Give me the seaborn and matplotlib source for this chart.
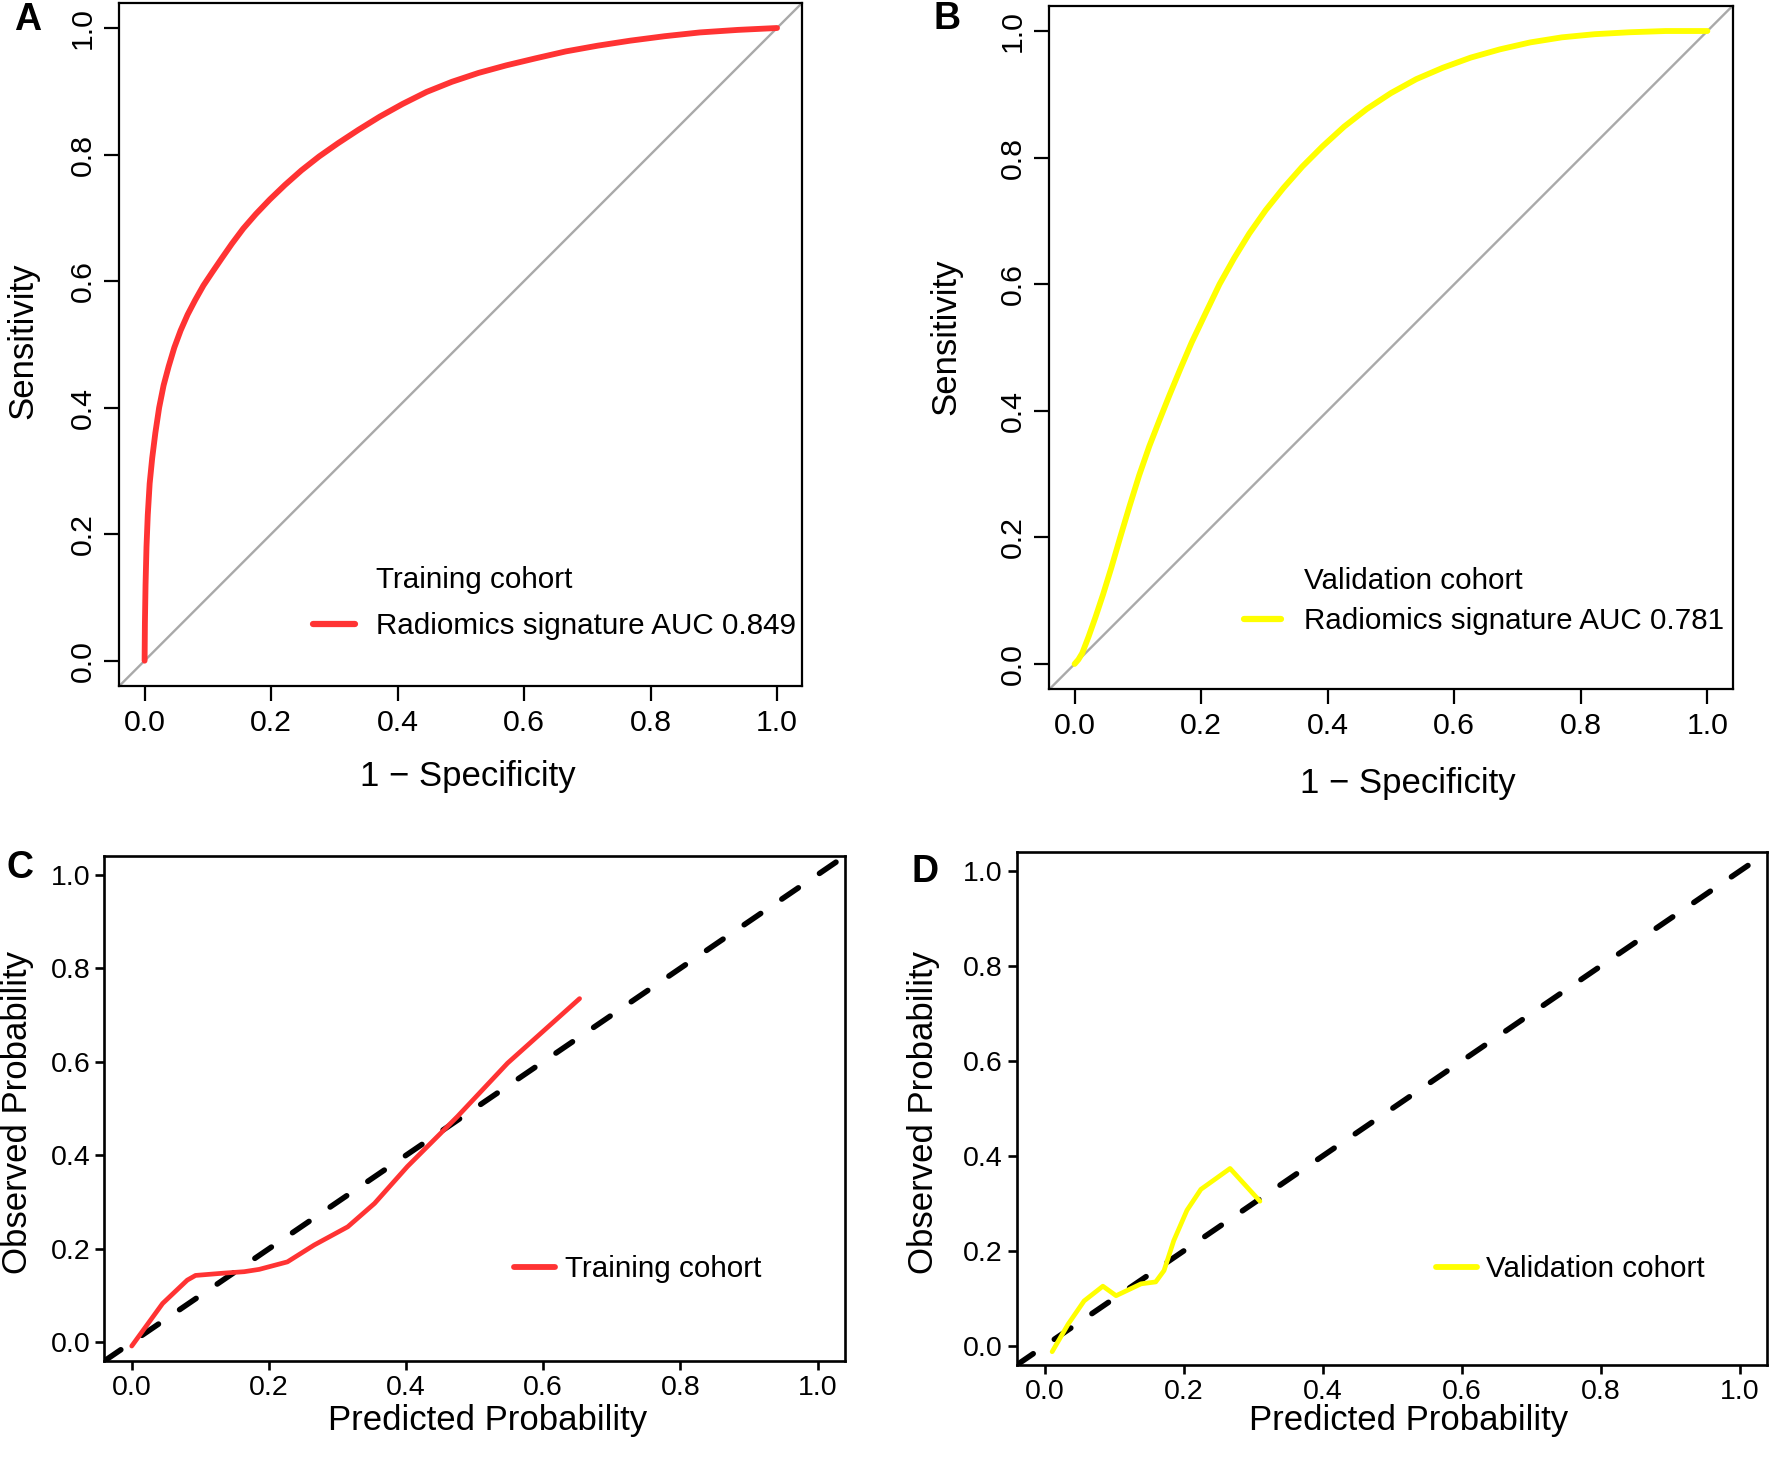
import matplotlib
matplotlib.use('Agg')
import matplotlib.pyplot as plt
from matplotlib.lines import Line2D
import seaborn as sns

# panel A: ROC, training cohort
train_fpr = [0.000, 0.0005, 0.0015, 0.003, 0.005, 0.008, 0.012, 0.017, 0.023, 0.030,
             0.038, 0.047, 0.057, 0.068, 0.080, 0.093, 0.107, 0.122, 0.138, 0.156,
             0.176, 0.198, 0.222, 0.248, 0.276, 0.306, 0.338, 0.372, 0.408, 0.446,
             0.486, 0.528, 0.572, 0.618, 0.666, 0.716, 0.768, 0.822, 0.878, 0.938,
             1.000]
train_tpr = [0.000, 0.060, 0.120, 0.180, 0.230, 0.280, 0.320, 0.360, 0.400, 0.435,
             0.465, 0.495, 0.522, 0.547, 0.570, 0.593, 0.614, 0.636, 0.659, 0.683,
             0.706, 0.729, 0.752, 0.775, 0.797, 0.818, 0.839, 0.860, 0.880, 0.899,
             0.915, 0.929, 0.941, 0.952, 0.963, 0.972, 0.980, 0.987, 0.993, 0.997,
             1.000]

# panel B: ROC, validation cohort
valid_fpr = [0.000, 0.006, 0.012, 0.022, 0.033, 0.045, 0.058, 0.072, 0.087, 0.102,
             0.118, 0.134, 0.150, 0.167, 0.185, 0.205, 0.229, 0.252, 0.276, 0.302,
             0.330, 0.360, 0.392, 0.426, 0.462, 0.500, 0.540, 0.582, 0.626, 0.672,
             0.720, 0.770, 0.822, 0.876, 0.934, 1.000]
valid_tpr = [0.000, 0.007, 0.017, 0.043, 0.074, 0.110, 0.152, 0.200, 0.250, 0.298,
             0.344, 0.385, 0.425, 0.466, 0.508, 0.550, 0.600, 0.641, 0.680, 0.717,
             0.752, 0.786, 0.818, 0.849, 0.877, 0.902, 0.924, 0.942, 0.958, 0.971,
             0.982, 0.990, 0.995, 0.998, 1.000, 1.000]

# panel C: calibration, training cohort
train_pred = [0.000, 0.045, 0.081, 0.093, 0.135, 0.164, 0.186, 0.227, 0.266, 0.315,
              0.354, 0.402, 0.475, 0.548, 0.653]
train_obs = [-0.008, 0.083, 0.133, 0.143, 0.148, 0.151, 0.156, 0.172, 0.208, 0.247,
             0.297, 0.376, 0.483, 0.597, 0.735]

# panel D: calibration, validation cohort
valid_pred = [0.011, 0.034, 0.057, 0.084, 0.103, 0.139, 0.160, 0.172, 0.186, 0.205,
              0.225, 0.267, 0.310]
valid_obs = [-0.012, 0.046, 0.095, 0.126, 0.106, 0.131, 0.135, 0.159, 0.222, 0.286,
             0.330, 0.374, 0.305]

tick_values = [0.0, 0.2, 0.4, 0.6, 0.8, 1.0]
tick_labels = ['0.0', '0.2', '0.4', '0.6', '0.8', '1.0']

RED = '#FF3333'
YELLOW = '#FFFF00'
GREY = '#A9A9A9'

sns.set_style('white')
plt.rcParams['font.family'] = ['Liberation Sans', 'DejaVu Sans']
plt.rcParams['text.color'] = 'black'
plt.rcParams['axes.labelcolor'] = 'black'
plt.rcParams['xtick.color'] = 'black'
plt.rcParams['ytick.color'] = 'black'

W, H = 1770, 1465
fig = plt.figure(figsize=(W / 100, H / 100), dpi=100)

LAB_FS = 25
LEG_FS = 21.3


def box(l, t, r, b):
    return [l / W, 1 - b / H, (r - l) / W, (b - t) / H]


def style(ax, roc):
    ax.set_xlim(-0.04, 1.04)
    ax.set_ylim(-0.04, 1.04)
    ax.set_xticks(tick_values)
    ax.set_xticklabels(tick_labels)
    ax.set_yticks(tick_values)
    ax.set_yticklabels(tick_labels)
    lw = 1.6 if roc else 1.9
    for s in ax.spines.values():
        s.set_color('black')
        s.set_linewidth(lw)
        s.set_visible(True)
    if roc:
        ax.tick_params(axis='both', length=10.8, width=lw, labelsize=21.8,
                       direction='out', bottom=True, left=True)
        ax.tick_params(axis='x', pad=5.5)
        ax.tick_params(axis='y', pad=5.5, labelrotation=90)
        for lbl in ax.get_yticklabels():
            lbl.set_va('center')
    else:
        ax.tick_params(axis='both', length=6.5, width=lw, labelsize=20.5,
                       direction='out', bottom=True, left=True)
        ax.tick_params(axis='x', pad=3.5)
        ax.tick_params(axis='y', pad=3.5)
    ax.grid(False)


def legend(ax, handles, labels, x, y, hl, htp, ls=0.45):
    ax.legend(handles, labels, loc='center left', bbox_to_anchor=(x, y),
              frameon=False, fontsize=LEG_FS, borderpad=0, borderaxespad=0,
              handlelength=hl, handletextpad=htp, labelspacing=ls)


# ---- A
axA = fig.add_axes(box(119.3, 2.7, 802.3, 686))
axA.axline((0, 0), slope=1, color=GREY, lw=1.7, zorder=1)
sns.lineplot(x=train_fpr, y=train_tpr, ax=axA, color=RED, linewidth=4.2,
             sort=False, estimator=None, solid_capstyle='round',
             solid_joinstyle='round', zorder=3)
style(axA, True)
axA.set_xlabel('1 \u2212 Specificity', fontsize=LAB_FS)
axA.set_ylabel('Sensitivity', fontsize=LAB_FS)
axA.xaxis.set_label_coords(0.51, -0.133)
axA.xaxis.label.set_va('center')
axA.yaxis.set_label_coords(-0.1416, 0.505)
axA.yaxis.label.set_va('center')
legend(axA,
       [Line2D([], [], color='none'),
        Line2D([], [], color=RED, lw=4.5, solid_capstyle='round')],
       ['Training cohort', 'Radiomics signature AUC 0.849'],
       0.283, 0.121, 1.42, 0.72, 0.62)

# ---- B
axB = fig.add_axes(box(1049.3, 5.7, 1732.7, 689.3))
axB.axline((0, 0), slope=1, color=GREY, lw=1.7, zorder=1)
sns.lineplot(x=valid_fpr, y=valid_tpr, ax=axB, color=YELLOW, linewidth=4.2,
             sort=False, estimator=None, solid_capstyle='round',
             solid_joinstyle='round', zorder=3)
style(axB, True)
axB.set_xlabel('1 \u2212 Specificity', fontsize=LAB_FS)
axB.set_ylabel('Sensitivity', fontsize=LAB_FS)
axB.xaxis.set_label_coords(0.525, -0.1385)
axB.xaxis.label.set_va('center')
axB.yaxis.set_label_coords(-0.151, 0.515)
axB.yaxis.label.set_va('center')
legend(axB,
       [Line2D([], [], color='none'),
        Line2D([], [], color=YELLOW, lw=4.5, solid_capstyle='round')],
       ['Validation cohort', 'Radiomics signature AUC 0.781'],
       0.2856, 0.129, 1.23, 0.79, 0.4)

# ---- C
axC = fig.add_axes(box(104.3, 856, 845, 1361))
axC.axline((0, 0), slope=1, color='black', lw=4.0, ls=(0, (3.6, 4.6)),
           dash_capstyle='round', zorder=2)
sns.lineplot(x=train_pred, y=train_obs, ax=axC, color=RED, linewidth=3.4,
             sort=False, estimator=None, solid_capstyle='round',
             solid_joinstyle='round', zorder=3)
style(axC, False)
axC.set_xlabel('Predicted Probability', fontsize=LAB_FS)
axC.set_ylabel('Observed Probability', fontsize=LAB_FS)
axC.xaxis.set_label_coords(0.517, -0.118)
axC.xaxis.label.set_va('center')
axC.yaxis.set_label_coords(-0.117, 0.493)
axC.yaxis.label.set_va('center')
legend(axC, [Line2D([], [], color=RED, lw=4.2, solid_capstyle='round')],
       ['Training cohort'], 0.5527, 0.1816, 1.41, 0.33)

# ---- D
axD = fig.add_axes(box(1016.7, 852.3, 1767.3, 1365))
axD.axline((0, 0), slope=1, color='black', lw=4.0, ls=(0, (3.6, 4.6)),
           dash_capstyle='round', zorder=2)
sns.lineplot(x=valid_pred, y=valid_obs, ax=axD, color=YELLOW, linewidth=3.4,
             sort=False, estimator=None, solid_capstyle='round',
             solid_joinstyle='round', zorder=3)
style(axD, False)
axD.set_xlabel('Predicted Probability', fontsize=LAB_FS)
axD.set_ylabel('Observed Probability', fontsize=LAB_FS)
axD.xaxis.set_label_coords(0.522, -0.108)
axD.xaxis.label.set_va('center')
axD.yaxis.set_label_coords(-0.124, 0.493)
axD.yaxis.label.set_va('center')
legend(axD, [Line2D([], [], color=YELLOW, lw=4.2, solid_capstyle='round')],
       ['Validation cohort'], 0.558, 0.187, 1.41, 0.30)

# panel letters
for letter, px, py in [('A', 27.5, 20), ('B', 947, 19), ('C', 20, 868), ('D', 925, 872)]:
    fig.text(px / W, 1 - py / H, letter, fontsize=27, fontweight='bold',
             ha='center', va='center')

fig.savefig('out.png', dpi=100)
